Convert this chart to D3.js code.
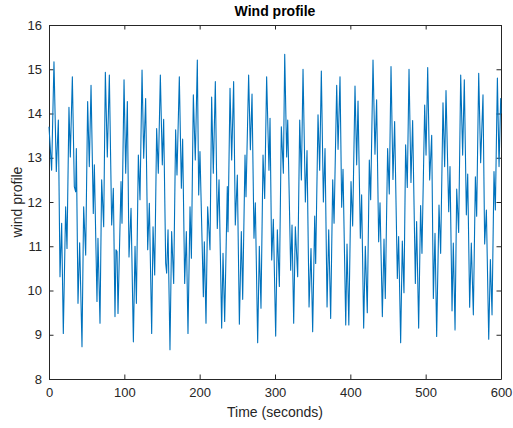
<!DOCTYPE html>
<html>
<head>
<meta charset="utf-8">
<script src="https://cdn.jsdelivr.net/npm/d3@7"></script>
<style>
  body { margin: 0; background: #fff; }
  svg { display: block; font-family: "Liberation Sans", Arial, sans-serif; }
  .tick text { fill: #262626; font-size: 13px; }
  .tick line, .domain { stroke: #262626; }
</style>
</head>
<body>
<div id="plot"></div>
<script>
// Values
const times = [
  0, 3.5, 6.6, 9.7, 12.4, 14.6, 16.8, 19.0, 22.1, 23.9, 26.5, 28.3, 31.0, 33.6, 35.4, 36.3,
  38.5, 40.7, 43.8, 46.0, 48.7, 51.3, 53.5, 55.8, 58.8, 60.2, 63.7, 65.0, 67.7, 69.9, 72.6,
  74.8, 77.4, 80.1, 83.2, 85.4, 87.6, 88.9, 90.3, 91.6, 95.6, 96.9, 99.6,
  101.8, 104.0, 106.2, 108.9, 112.0, 114.2, 116.0, 118.6, 120.8, 123.5, 125.7, 128.3, 131.0,
  133.2, 136.3, 138.1, 140.3, 142.9, 145.1, 147.8, 150.4, 152.2, 154.9, 156.2, 158.0, 160.6,
  162.8, 165.5, 168.1, 169.9, 173.0, 175.7, 177.4, 180.1, 182.3, 184.5, 187.2, 189.0, 191.6,
  194.2, 196.9, 198.7, 200.4, 204.9, 206.2, 208.4, 210.6, 213.7, 215.9, 218.1, 220.8, 223.4,
  225.7, 229.2, 231.0, 233.2, 236.7, 237.6, 240.3, 242.5, 245.1, 247.3, 250.0, 252.7, 255.3,
  257.1, 260.2, 261.5, 265.0, 267.3, 269.5, 272.1, 273.9, 277.0, 279.2, 281.4, 284.1, 286.3,
  288.9, 292.0, 293.4, 295.6, 297.8, 300.9, 303.1, 305.8, 308.4, 311.1, 312.9, 315.5, 316.9,
  320.8, 322.6, 324.8, 327.0, 330.1, 332.8, 335.0, 337.2, 340.3, 342.5, 345.2, 347.8, 350.0,
  352.7, 354.0, 357.1, 359.3, 361.5, 364.2, 366.4, 369.1, 371.3, 373.9, 376.6, 378.4, 381.9,
  383.7, 386.3, 388.5, 390.3, 393.9, 395.6, 398.0, 400.9, 403.1, 406.2, 408.4, 410.2, 413.3,
  415.0, 417.7, 419.9, 422.5, 425.2, 427.0, 430.1, 432.7, 434.9, 437.6, 439.4, 442.5, 444.7,
  446.4, 449.5, 451.7, 454.0, 456.6, 458.8, 462.4, 464.1, 466.8, 469.0, 471.2, 473.4, 475.6,
  477.9, 480.5, 482.7, 486.3, 488.0, 490.7, 493.3, 495.1, 498.7, 500.5, 502.7, 505.3, 508.0,
  510.2, 512.4, 514.6, 517.7, 519.9, 523.0, 525.2, 527.0, 530.6, 532.3, 535.0, 536.7, 539.0,
  541.2, 543.8, 546.5, 549.1, 551.3, 554.0, 555.8, 558.4, 560.6, 563.3, 566.0, 567.7, 570.4,
  573.0, 576.1, 578.3, 580.6, 583.7, 585.9, 588.1, 590.7, 592.5, 595.2, 597.4, 599.6, 600
];
const wind = [
  13.70, 12.72, 15.17, 12.69, 13.85, 10.31, 11.52, 9.03, 11.89, 10.95, 14.14, 13.02, 14.83, 12.35, 12.23, 13.21,
  9.71, 11.08, 8.73, 11.89, 10.80, 14.27, 12.80, 14.64, 11.74, 12.84, 9.75, 11.18, 9.26, 12.50, 11.44,
  14.93, 13.02, 14.87, 11.48, 12.31, 9.41, 10.92, 10.88, 9.48, 12.46, 11.52, 14.76,
  12.65, 14.27, 10.76, 11.86, 8.84, 11.00, 9.71, 13.06, 12.05, 14.98, 12.99, 14.34, 10.92,
  11.97, 9.03, 11.44, 10.35, 13.66, 12.65, 14.87, 12.84, 13.87, 10.61, 10.39, 11.37, 8.66,
  11.33, 10.16, 13.63, 12.61, 14.83, 12.31, 13.42, 10.16, 11.33, 9.03, 11.89, 10.73, 14.42,
  12.95, 15.21, 12.16, 13.14, 9.86, 11.10, 9.26, 11.89, 10.92, 14.37, 12.65, 14.72, 11.40,
  12.50, 9.15, 10.84, 9.30, 12.35, 11.33, 14.57, 12.95, 14.72, 11.48, 12.61, 9.24, 11.33,
  9.80, 13.06, 12.12, 14.87, 13.18, 14.44, 11.18, 11.98, 8.82, 11.00, 9.60, 13.06, 12.08,
  14.83, 12.72, 13.89, 10.69, 11.61, 8.97, 11.37, 10.09, 13.70, 12.65, 15.34, 13.02, 13.85,
  10.46, 11.48, 9.26, 11.44, 10.31, 13.85, 12.50, 15.00, 12.00, 13.16, 9.63, 10.95, 9.07,
  11.68, 10.61, 13.97, 12.72, 14.96, 12.00, 13.21, 9.63, 11.37, 9.37, 12.50, 11.52, 14.64,
  13.19, 14.83, 11.88, 12.74, 9.22, 11.05, 9.22, 12.46, 11.46, 14.62, 12.84, 14.28, 11.18,
  12.16, 9.15, 11.00, 9.50, 12.95, 12.05, 15.21, 13.08, 14.31, 11.10, 11.98, 9.41, 11.16,
  9.82, 13.21, 12.18, 15.06, 12.51, 13.82, 10.27, 11.22, 8.82, 11.12, 9.95, 13.29, 12.33,
  15.00, 12.44, 13.84, 10.16, 11.56, 9.15, 11.92, 10.84, 14.19, 13.06, 15.04, 12.50, 13.51,
  9.82, 11.29, 8.96, 11.93, 10.84, 14.24, 12.80, 14.52, 11.78, 12.80, 9.54, 11.07, 9.11,
  12.29, 11.31, 14.87, 13.06, 14.76, 11.71, 12.63, 9.62, 11.07, 9.45, 12.57, 11.68, 14.91,
  12.89, 14.42, 11.05, 11.82, 8.90, 10.70, 9.45, 12.69, 11.82, 14.80, 12.80, 14.34, 14.00
];
const xTicks = [0, 100, 200, 300, 400, 500, 600];
const yTicks = [8, 9, 10, 11, 12, 13, 14, 15, 16];

const W = 513, H = 428;
const margin = { top: 25, right: 12, bottom: 49, left: 49 };
const width = W - margin.left - margin.right;
const height = H - margin.top - margin.bottom;

const svg = d3.select('#plot').append('svg')
  .attr('width', W).attr('height', H);
const g = svg.append('g')
  .attr('transform', `translate(${margin.left},${margin.top})`);

const x = d3.scaleLinear().domain([0, 600]).range([0, width]);
const y = d3.scaleLinear().domain([8, 16]).range([height, 0]);

const tl = 4.5;

// axes with inward ticks (MATLAB look)
g.append('g').attr('transform', `translate(0,${height})`)
  .call(d3.axisBottom(x).tickValues(xTicks).tickSize(-tl).tickSizeOuter(0).tickPadding(9))
  .call(a => a.selectAll('text').attr('dy', '0.71em'));
g.append('g')
  .call(d3.axisTop(x).tickValues(xTicks).tickSize(-tl).tickSizeOuter(0).tickFormat(''));
g.append('g')
  .call(d3.axisLeft(y).tickValues(yTicks).tickSize(-tl).tickSizeOuter(0).tickPadding(7));
g.append('g').attr('transform', `translate(${width},0)`)
  .call(d3.axisRight(y).tickValues(yTicks).tickSize(-tl).tickSizeOuter(0).tickFormat(''));

// the wind line
const line = d3.line().x((d, i) => x(times[i])).y(d => y(d));
g.append('path')
  .datum(wind)
  .attr('fill', 'none')
  .attr('stroke', '#0072BD')
  .attr('stroke-width', 1.1)
  .attr('stroke-linejoin', 'round')
  .attr('d', line);

// labels
svg.append('text')
  .attr('x', margin.left + width / 2).attr('y', 16)
  .attr('text-anchor', 'middle')
  .style('font-size', '14px').style('font-weight', 'bold').style('fill', '#000')
  .text('Wind profile');

svg.append('text')
  .attr('x', margin.left + width / 2).attr('y', 417)
  .attr('text-anchor', 'middle')
  .style('font-size', '14px').style('fill', '#262626')
  .text('Time (seconds)');

svg.append('text')
  .attr('transform', `translate(22,${margin.top + height / 2}) rotate(-90)`)
  .attr('text-anchor', 'middle')
  .style('font-size', '14px').style('fill', '#262626')
  .text('wind profile');
</script>
</body>
</html>
